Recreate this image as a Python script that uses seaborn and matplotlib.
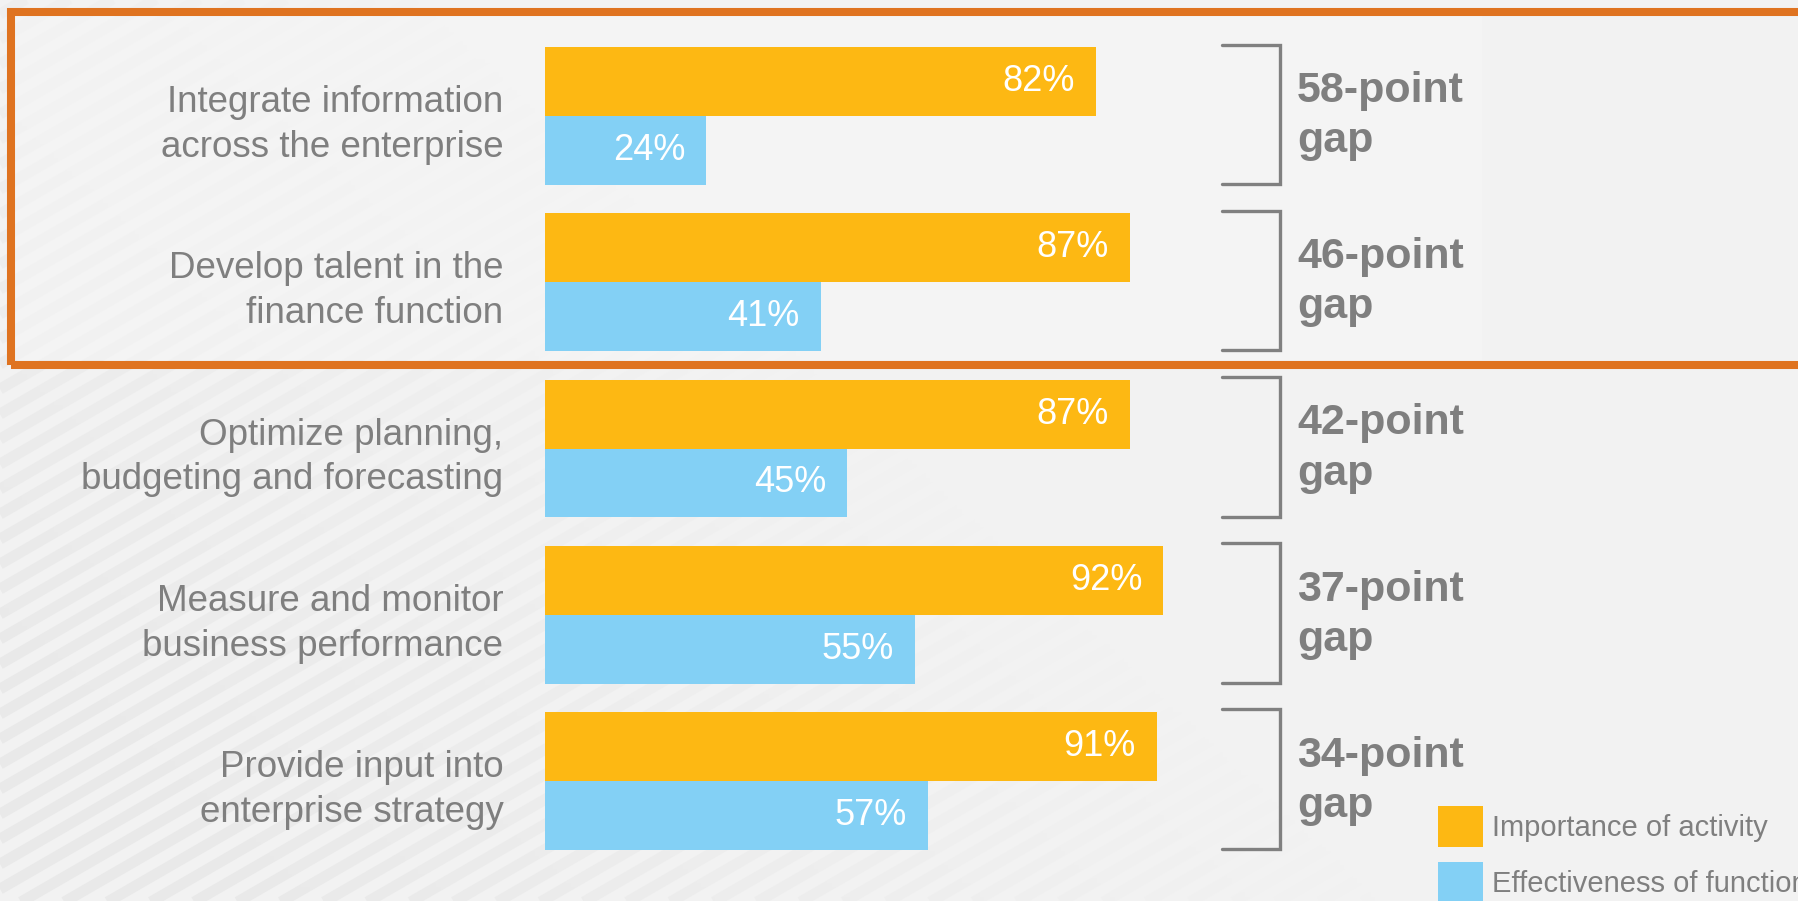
import numpy as np
import pandas as pd
import matplotlib
matplotlib.use("Agg")
import matplotlib.pyplot as plt
from matplotlib.patches import Rectangle, Patch
import seaborn as sns

# data
categories = [
    "Integrate information\nacross the enterprise",
    "Develop talent in the\nfinance function",
    "Optimize planning,\nbudgeting and forecasting",
    "Measure and monitor\nbusiness performance",
    "Provide input into\nenterprise strategy",
]
importance = [82, 87, 87, 92, 91]
effectiveness = [24, 41, 45, 55, 57]
series_names = ["Importance of activity", "Effectiveness of function"]

ORANGE = "#fdb813"
BLUE = "#83d0f5"
GRAY = "#7f7f7f"
BRACKET = "#808080"
BOX = "#df7320"
BG = "#f2f2f2"

df = pd.DataFrame({
    "activity": categories * 2,
    "series": [series_names[0]] * len(categories) + [series_names[1]] * len(categories),
    "value": importance + effectiveness,
})
gaps = [a - b for a, b in zip(importance, effectiveness)]

sns.set_style("white")
plt.rcParams["font.family"] = ["Liberation Sans", "DejaVu Sans"]

W, H = 1798, 901
fig = plt.figure(figsize=(W / 100, H / 100), dpi=100, facecolor=BG)

# background: diagonal stripes fading out to the right and up
bg = fig.add_axes([0, 0, 1, 1], zorder=-10)
bg.set_xlim(0, W)
bg.set_ylim(0, H)
bg.axis("off")
slope = np.tan(np.radians(30))
xs = np.array([0, W])
for c in np.arange(-W * slope, H + 25, 25):
    bg.plot(xs, c + slope * xs, color="#e9e9e9", lw=7.8, solid_capstyle="butt")
xx, yy = np.meshgrid(np.linspace(0, 1, 400), np.linspace(0, 1, 200))
fade = np.clip(xx * 1.5 + yy * 0.8 - 0.15, 0, 1)
rgba = np.zeros((200, 400, 4))
rgba[..., :3] = matplotlib.colors.to_rgb(BG)
rgba[..., 3] = fade
bg.imshow(rgba, origin="lower", extent=(0, W, 0, H), aspect="auto", zorder=2)
bg.add_patch(Rectangle((15, H - 360), 1482 - 15, 345, color="#f6f6f6", alpha=0.5, lw=0, zorder=3))

# main bars
ax = fig.add_axes([545 / W, 1 - 864 / H, 672 / W, 831 / H])
sns.barplot(data=df, y="activity", x="value", hue="series", orient="h",
            palette=[ORANGE, BLUE], width=0.83, saturation=1, linewidth=0,
            legend=False, ax=ax)
ax.set_xlim(0, 100)
ax.set_ylim(len(categories) - 0.5, -0.5)
ax.patch.set_alpha(0)
ax.set_xticks([])
ax.set_xlabel("")
ax.set_ylabel("")
ax.tick_params(axis="y", length=0, pad=30, labelsize=26.5, labelcolor=GRAY)
for lbl in ax.get_yticklabels():
    lbl.set_linespacing(1.37)
sns.despine(ax=ax, left=True, bottom=True)

for cont in ax.containers:
    anns = ax.bar_label(cont, fmt="{:.0f}%", padding=-15, color="white", fontsize=26)
    for a in anns:
        a.set_ha("right")

# gap brackets
for i, gap in enumerate(gaps):
    y0, y1 = i - 0.43, i + 0.41
    ax.plot([100.7, 109.4, 109.4, 100.7], [y0, y0, y1, y1], color=BRACKET,
            lw=2.4, clip_on=False, solid_joinstyle="miter")
    ax.text(111.9, i, f"{gap}-point\ngap", ha="left", va="center", fontsize=31,
            fontweight="bold", color=GRAY, linespacing=1.33)

# highlight box round the first two rows
fig.add_artist(Rectangle((11 / W, 1 - 365 / H), (1815 - 11) / W, (365 - 11.5) / H,
                         transform=fig.transFigure, fill=False, edgecolor=BOX,
                         lw=5.8, zorder=5))

handles = [Patch(facecolor=ORANGE, lw=0), Patch(facecolor=BLUE, lw=0)]
fig.legend(handles, series_names, loc="upper left", bbox_to_anchor=(1438 / W, 1 - 806 / H),
           frameon=False, fontsize=21, labelcolor=GRAY, handlelength=1.55,
           handleheight=1.79, handletextpad=0.3, labelspacing=0.5,
           borderpad=0, borderaxespad=0)

fig.savefig("out.png", dpi=100, facecolor=BG)
